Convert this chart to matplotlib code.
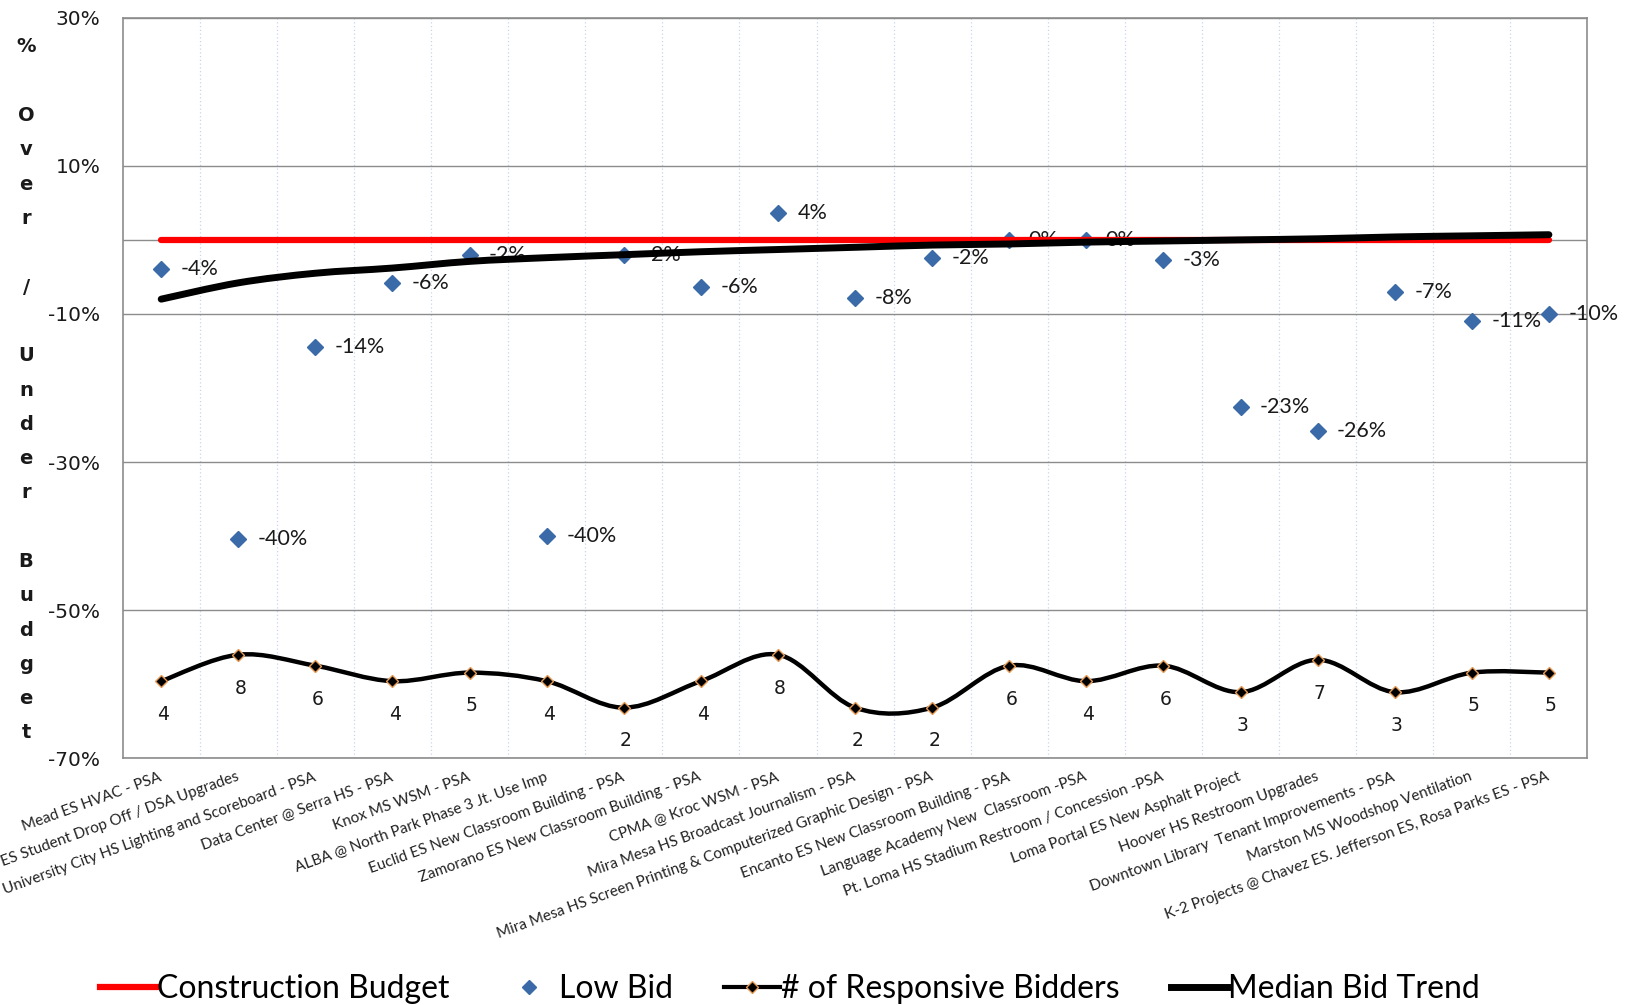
"""Low bid vs construction budget chart, with responsive bidder counts."""
import matplotlib
matplotlib.use("Agg")
import matplotlib.pyplot as plt
import numpy as np
from matplotlib.lines import Line2D
from matplotlib.path import Path
from matplotlib.patches import PathPatch

PROJECTS = [
    "Mead ES HVAC - PSA",
    "ES Student Drop Off / DSA Upgrades",
    "University City HS Lighting and Scoreboard - PSA",
    "Data Center @ Serra HS - PSA",
    "Knox MS WSM - PSA",
    "ALBA @ North Park Phase 3 Jt. Use Imp",
    "Euclid ES New Classroom Building - PSA",
    "Zamorano ES New Classroom Building - PSA",
    "CPMA @ Kroc WSM - PSA",
    "Mira Mesa HS Broadcast Journalism - PSA",
    "Mira Mesa HS Screen Printing & Computerized Graphic Design - PSA",
    "Encanto ES New Classroom Building - PSA",
    "Language Academy New  Classroom -PSA",
    "Pt. Loma HS Stadium Restroom / Concession -PSA",
    "Loma Portal ES New Asphalt Project",
    "Hoover HS Restroom Upgrades",
    "Downtown Library  Tenant Improvements - PSA",
    "Marston MS Woodshop Ventilation",
    "K-2 Projects @ Chavez ES. Jefferson ES, Rosa Parks ES - PSA",
]
BUDGET = [0.0] * 19
LOW_BID = [-3.9, -40.4, -14.4, -5.8, -2.0, -40.0, -2.0, -6.3, 3.6, -7.9,
           -2.4, 0.0, 0.0, -2.7, -22.6, -25.8, -7.1, -11.0, -10.0]
BIDDERS = [4, 8, 6, 4, 5, 4, 2, 4, 8, 2, 2, 6, 4, 6, 3, 7, 3, 5, 5]
MEDIAN_TREND = [-8.0, -5.8, -4.5, -3.8, -2.9, -2.4, -2.0, -1.6, -1.3, -1.0,
                -0.7, -0.55, -0.3, -0.15, 0.0, 0.15, 0.4, 0.55, 0.7]
Y_TICKS = [30, 10, -10, -30, -50, -70]

RED = "#ff0000"
BLUE = "#3b6aa8"
GRID = "#8c8c8c"
TAN = "#e59a55"
SANS = ["Lato", "DejaVu Sans"]
VERD = ["DejaVu Sans"]


def smooth_path(xs, ys, log=False):
    # Excel-style smoothed line: cubic Bezier through each point
    ys = np.asarray(ys, dtype=float)
    ly = np.log10(ys) if log else ys
    back = (lambda v: 10 ** v) if log else (lambda v: v)
    n = len(xs)
    verts = [(xs[0], ys[0])]
    codes = [Path.MOVETO]
    for i in range(n - 1):
        i0, i3 = max(i - 1, 0), min(i + 2, n - 1)
        c1x = xs[i] + (xs[i + 1] - xs[i0]) / 6
        c1y = ly[i] + (ly[i + 1] - ly[i0]) / 6
        c2x = xs[i + 1] - (xs[i3] - xs[i]) / 6
        c2y = ly[i + 1] - (ly[i3] - ly[i]) / 6
        verts += [(c1x, back(c1y)), (c2x, back(c2y)), (xs[i + 1], ys[i + 1])]
        codes += [Path.CURVE4] * 3
    return Path(verts, codes)


fig = plt.figure(figsize=(16.29, 10.05), dpi=100)
ax = fig.add_axes([0.0753, 0.2454, 0.8992, 0.737])
x = np.arange(len(PROJECTS))

ax.set_xlim(-0.5, len(PROJECTS) - 0.5)
ax.set_ylim(-70, 30)
ax.set_yticks(Y_TICKS)
ax.set_yticklabels([f"{t}%" for t in Y_TICKS], family=VERD, fontsize=14.5,
                   color="#1a1a1a")
ax.tick_params(axis="y", length=0, pad=16)
ax.grid(axis="y", color=GRID, linewidth=1)
ax.axhline(0, color=GRID, linewidth=1, zorder=1)
for b in np.arange(0.5, len(PROJECTS) - 0.5):
    ax.axvline(b, color="#c5d6ee", linewidth=0.9, linestyle=(0, (1, 2)),
               zorder=0)
for s in ax.spines.values():
    s.set_color(GRID)
    s.set_linewidth(1.2)

ax.set_xticks(x)
ax.set_xticklabels(PROJECTS, rotation=20, ha="right", va="center",
                   rotation_mode="anchor", family=SANS, fontsize=11,
                   color="#222222")
ax.tick_params(axis="x", length=0, pad=13)

# low bid markers and labels
ax.plot(x, LOW_BID, linestyle="none", marker="D", markersize=8,
        color=BLUE, zorder=3)
for xi, v in zip(x, LOW_BID):
    ax.annotate(f"{v:.0f}%", (xi, v), xytext=(14, 0),
                textcoords="offset points", va="center", ha="left",
                family=SANS, fontsize=15.5, color="#1a1a1a", zorder=3)

ax.plot(x, BUDGET, color=RED, linewidth=4.5, solid_capstyle="round",
        zorder=4)
ax.add_patch(PathPatch(smooth_path(x, MEDIAN_TREND), facecolor="none",
                       edgecolor="black", linewidth=5, capstyle="round",
                       zorder=5))

# responsive bidders on a hidden log-scale secondary axis
ax2 = ax.twinx()
ax2.set_yscale("log")
ax2.set_ylim(0.53, 1.4e8)
ax2.set_xlim(ax.get_xlim())
ax2.axis("off")
ax2.add_patch(PathPatch(smooth_path(x, BIDDERS, log=True), facecolor="none",
                        edgecolor="black", linewidth=3.2, zorder=3))
ax2.plot(x, BIDDERS, linestyle="none", marker="D", markersize=6,
         markerfacecolor="black", markeredgecolor=TAN, markeredgewidth=1,
         zorder=4)
for xi, n in zip(x, BIDDERS):
    ax2.annotate(str(n), (xi, n), xytext=(1.5, -24),
                 textcoords="offset points", va="center", ha="center",
                 family=VERD, fontsize=13.5, color="#1a1a1a")

# stacked vertical axis title
chars = []
for word in "% Over / Under Budget".split(" "):
    chars += list(word) + [""]
chars = chars[:-1]
step = 34.3 / 1005
y0 = 1 - 47 / 1005
for i, ch in enumerate(chars):
    if ch:
        fig.text(0.016, y0 - i * step, ch, ha="center", va="center",
                 family=VERD, fontsize=14, fontweight="bold",
                 color="#1a1a1a")

handles = [
    Line2D([], [], color=RED, linewidth=4.5),
    Line2D([], [], linestyle="none", marker="D", markersize=7, color=BLUE),
    Line2D([], [], color="black", linewidth=3, marker="D", markersize=6,
           markerfacecolor="black", markeredgecolor=TAN),
    Line2D([], [], color="black", linewidth=5),
]
labels = ["Construction Budget", "Low Bid", "# of Responsive Bidders",
          "Median Bid Trend"]
fig.legend(handles, labels, loc="center", bbox_to_anchor=(0.485, 0.016),
           ncol=4, frameon=False, prop={"family": SANS, "size": 23},
           handlelength=1.75, handletextpad=0.05, columnspacing=1.6)

fig.savefig("out.png", dpi=100, facecolor="white")
